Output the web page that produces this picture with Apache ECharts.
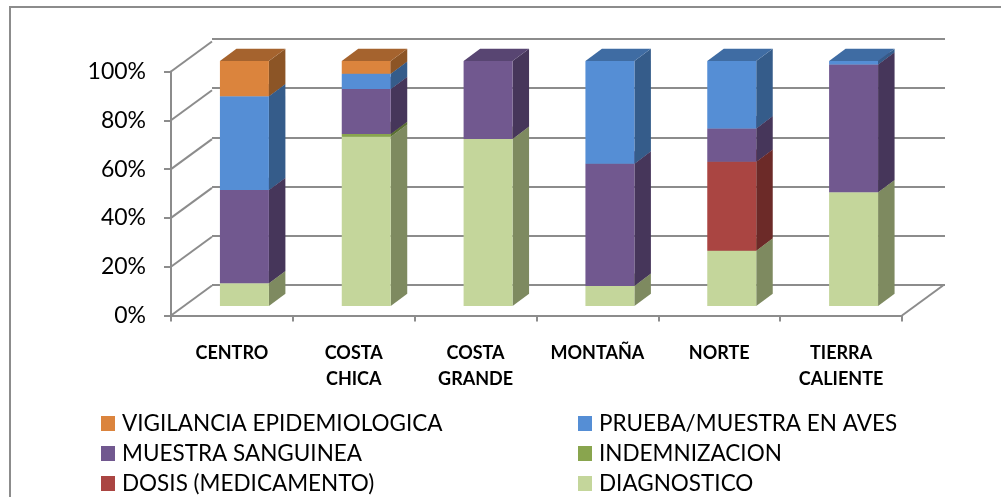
<!DOCTYPE html>
<html><head><meta charset="utf-8">
<style>html,body{margin:0;padding:0;background:#fff}#c{width:1001px;height:497px}</style>
<script src="https://cdn.jsdelivr.net/npm/echarts@6/dist/echarts.min.js"></script>
</head><body><div id="c"></div>
<script>
const categories = ['CENTRO','COSTA\nCHICA','COSTA\nGRANDE','MONTAÑA','NORTE','TIERRA\nCALIENTE'];
const yTicks = [0,20,40,60,80,100];
const diagnostico = [9.3,69.1,68.2,8.2,22.6,46.4];
const dosis = [0,0,0,0,36.3,0];
const indemnizacion = [0,1.1,0,0,0,0];
const muestraSanguinea = [38,18.4,31.8,49.9,13.6,52.2];
const pruebaAves = [38.3,6.2,0,41.9,27.5,1.4];
const vigilancia = [14.4,5.2,0,0,0,0];

const stackOrder = [
  {name:'DIAGNOSTICO', values:diagnostico, front:'#C4D69B', side:'#7E8A60', top:'#9DAB7C'},
  {name:'DOSIS (MEDICAMENTO)', values:dosis, front:'#AA4542', side:'#6C2A28', top:'#88372F'},
  {name:'INDEMNIZACION', values:indemnizacion, front:'#89A54E', side:'#5A6F33', top:'#6E853E'},
  {name:'MUESTRA SANGUINEA', values:muestraSanguinea, front:'#71588F', side:'#46365A', top:'#584572'},
  {name:'PRUEBA/MUESTRA EN AVES', values:pruebaAves, front:'#558ED5', side:'#355C8A', top:'#3F6CA3'},
  {name:'VIGILANCIA EPIDEMIOLOGICA', values:vigilancia, front:'#DB843D', side:'#8C5526', top:'#A5632E'}
];
const GRAY = '#8C8C8C';
const FONT = 'Lato';
const BAR_RATIO = 0.402, BAR_DX = 16.5, BAR_DY = 12.3, WALL_DX = 41, WALL_DY = 30;

const barSeries = [];
const running = categories.map(() => 0);
stackOrder.forEach((s) => {
  const data = s.values.map((v, i) => {
    const row = [i, running[i], running[i] + v];
    running[i] += v;
    return row;
  });
  barSeries.push({
    type:'custom', name:s.name, xAxisIndex:2, yAxisIndex:2, z:5,
    itemStyle:{color:s.front},
    encode:{x:0,y:[1,2]},
    data,
    renderItem(params, api){
      const cat = api.value(0), a = api.value(1), b = api.value(2);
      if (b - a <= 0) return;
      const p0 = api.coord([cat,a]), p1 = api.coord([cat,b]);
      const w = api.size([1,0])[0] * BAR_RATIO;
      const x0 = p0[0]-w/2, x1 = p0[0]+w/2, y0 = p0[1], y1 = p1[1];
      return {type:'group', children:[
        {type:'polygon', shape:{points:[[x1,y0],[x1+BAR_DX,y0-BAR_DY],[x1+BAR_DX,y1-BAR_DY],[x1,y1]]}, style:{fill:s.side}},
        {type:'polygon', shape:{points:[[x0,y1],[x1,y1],[x1+BAR_DX,y1-BAR_DY],[x0+BAR_DX,y1-BAR_DY]]}, style:{fill:s.top}},
        {type:'rect', shape:{x:x0,y:y1,width:w,height:y0-y1}, style:{fill:s.front}}
      ]};
    }
  });
});

const depthSeries = {
  type:'custom', name:'depth', xAxisIndex:0, yAxisIndex:0, z:1, silent:true,
  data: yTicks.map(v => [v]),
  encode:{y:0},
  renderItem(params, api){
    const v = api.value(0);
    const half = api.size([1,0])[0]/2;
    const p = api.coord([0,v]);
    const x = p[0]-half, y = p[1];
    const kids = [{type:'line', shape:{x1:x,y1:y,x2:x+WALL_DX,y2:y-WALL_DY}, style:{stroke:GRAY,lineWidth:2}}];
    if (v === 0) {
      const q = api.coord([categories.length-1,0]);
      kids.push({type:'line', shape:{x1:q[0]+half,y1:y,x2:q[0]+half+WALL_DX,y2:y-WALL_DY}, style:{stroke:GRAY,lineWidth:2}});
    }
    return {type:'group', children:kids};
  }
};

const legendBase = {
  orient:'vertical', icon:'rect', itemWidth:14, itemHeight:15, itemGap:7, height:90,
  textStyle:{fontFamily:FONT,fontSize:22.5,color:'#000',lineHeight:22,padding:[0,0,0,2]},
  selectedMode:false
};

const chart = echarts.init(document.getElementById('c'),null,{renderer:'canvas'});
chart.setOption({
  animation:false,
  backgroundColor:'#fff',
  graphic:[{type:'polyline',silent:true,shape:{points:[[10,497],[10,7],[1001,7]]},style:{stroke:GRAY,lineWidth:2,fill:null}}],
  grid:[
    {left:171,top:71.5,width:731,height:244},
    {left:212,top:39,width:733,height:246},
    {left:183.5,top:61,width:731,height:245}
  ],
  xAxis:[
    {gridIndex:0,type:'category',data:categories,
     axisLine:{show:true,lineStyle:{color:GRAY,width:2}},
     axisTick:{show:true,length:6,lineStyle:{color:GRAY,width:2},alignWithLabel:false},
     axisLabel:{interval:0,margin:25,fontFamily:FONT,fontWeight:'bold',fontSize:18,lineHeight:25.5,color:'#000',verticalAlign:'top'},
     splitLine:{show:false}},
    {gridIndex:1,type:'category',data:categories,show:false},
    {gridIndex:2,type:'category',data:categories,show:false}
  ],
  yAxis:[
    {gridIndex:0,type:'value',min:0,max:100,interval:20,
     axisLine:{show:true,lineStyle:{color:GRAY,width:2}},
     axisTick:{show:true,length:7,lineStyle:{color:GRAY,width:2}},
     axisLabel:{formatter:'{value}%',margin:25,fontFamily:FONT,fontSize:23,color:'#000',padding:[9,0,0,0]},
     splitLine:{show:false}},
    {gridIndex:1,type:'value',min:0,max:100,interval:20,
     axisLine:{show:false},axisTick:{show:false},axisLabel:{show:false},
     splitLine:{show:true,lineStyle:{color:GRAY,width:2}}},
    {gridIndex:2,type:'value',min:0,max:100,interval:20,show:false,splitLine:{show:false}}
  ],
  legend:[
    Object.assign({},legendBase,{left:96,top:407,data:['VIGILANCIA EPIDEMIOLOGICA','MUESTRA SANGUINEA','DOSIS (MEDICAMENTO)']}),
    Object.assign({},legendBase,{left:573,top:407,data:['PRUEBA/MUESTRA EN AVES','INDEMNIZACION','DIAGNOSTICO']})
  ],
  series:[depthSeries].concat(barSeries)
});
</script></body></html>
